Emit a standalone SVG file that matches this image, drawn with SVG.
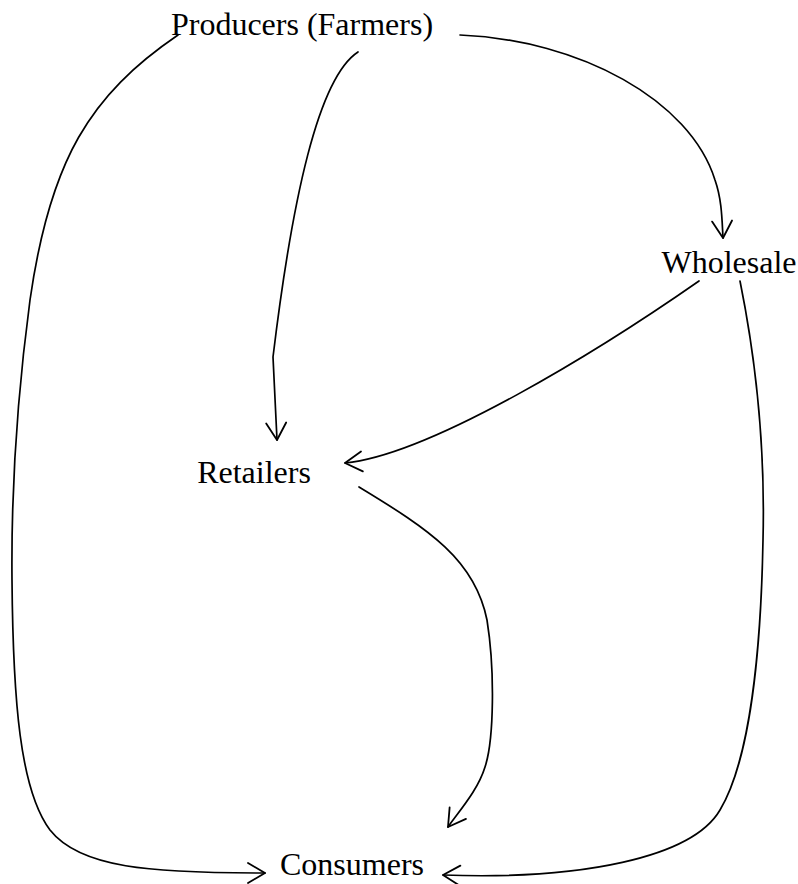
<svg xmlns="http://www.w3.org/2000/svg" width="798" height="884" viewBox="0 0 798 884">
  <style>
    .lbl { font-family: "Liberation Serif", "Times New Roman", serif; font-size: 32px; fill: #000; text-anchor: middle; }
    .edge { fill: none; stroke: #000; stroke-width: 1.7; stroke-linecap: round; stroke-linejoin: round; marker-end: url(#arr); }
  </style>
  <defs>
    <marker id="arr" markerUnits="userSpaceOnUse" viewBox="-20 -12 22 24" refX="0" refY="0" markerWidth="22" markerHeight="24" orient="auto" overflow="visible">
      <path d="M-17,-10 L0,0 L-17,10" fill="none" stroke="#000" stroke-width="1.8" stroke-linecap="round" stroke-linejoin="round"/>
    </marker>
  </defs>
  <rect width="798" height="884" fill="#fff"/>
  <g id="connectors">
    <path id="e-prod-cons" class="edge" d="M178,35 C90,95 50,160 30,300 C18,390 11,480 12,580 C13,700 20,790 50,830 C80,868 150,873 265,873"/>
    <path id="e-prod-ret" class="edge" d="M358,52 C318,78 292,200 273,357 L277,440"/>
    <path id="e-prod-whole" class="edge" d="M460,35 C580,40 690,100 715,180 C722,200 722,220 723,238"/>
    <path id="e-whole-ret" class="edge" d="M699,281 C600,350 430,455 345,463"/>
    <path id="e-ret-cons" class="edge" d="M359,487 C430,530 475,560 487,620 C495,670 494,740 485,767 C478,790 460,810 448,827"/>
    <path id="e-whole-cons" class="edge" d="M740,281 C758,370 765,460 763,540 C761,650 750,760 720,810 C692,858 580,880 443,875"/>
  </g>
  <g id="producers"><text class="lbl" x="302" y="35">Producers (Farmers)</text></g>
  <g id="wholesale"><text class="lbl" x="729" y="273">Wholesale</text></g>
  <g id="retailers"><text class="lbl" x="254" y="483">Retailers</text></g>
  <g id="consumers"><text class="lbl" x="352" y="875">Consumers</text></g>
</svg>
